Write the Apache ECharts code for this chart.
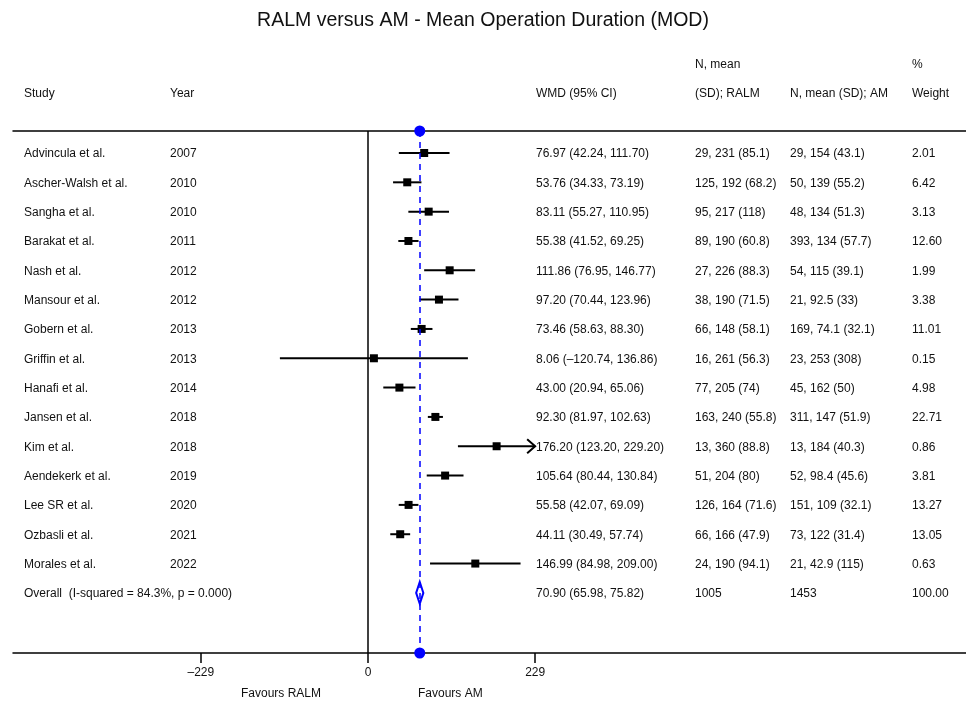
<!DOCTYPE html>
<html><head><meta charset="utf-8">
<script src="https://cdn.jsdelivr.net/npm/echarts@6/dist/echarts.min.js"></script>
<style>html,body{margin:0;padding:0;background:#fff}#c{width:966px;height:706px}</style>
</head><body><div id="c"></div>
<script>
const studies = ['Advincula et al.','Ascher-Walsh et al.','Sangha et al.','Barakat et al.','Nash et al.','Mansour et al.','Gobern et al.','Griffin et al.','Hanafi et al.','Jansen et al.','Kim et al.','Aendekerk et al.','Lee SR et al.','Ozbasli et al.','Morales et al.'];
const years = [2007,2010,2010,2011,2012,2012,2013,2013,2014,2018,2018,2019,2020,2021,2022];
const wmd = [76.97,53.76,83.11,55.38,111.86,97.20,73.46,8.06,43.00,92.30,176.20,105.64,55.58,44.11,146.99];
const ciLow = [42.24,34.33,55.27,41.52,76.95,70.44,58.63,-120.74,20.94,81.97,123.20,80.44,42.07,30.49,84.98];
const ciHigh = [111.70,73.19,110.95,69.25,146.77,123.96,88.30,136.86,65.06,102.63,229.20,130.84,69.09,57.74,209.00];
const ralmText = ['29, 231 (85.1)','125, 192 (68.2)','95, 217 (118)','89, 190 (60.8)','27, 226 (88.3)','38, 190 (71.5)','66, 148 (58.1)','16, 261 (56.3)','77, 205 (74)','163, 240 (55.8)','13, 360 (88.8)','51, 204 (80)','126, 164 (71.6)','66, 166 (47.9)','24, 190 (94.1)'];
const amText = ['29, 154 (43.1)','50, 139 (55.2)','48, 134 (51.3)','393, 134 (57.7)','54, 115 (39.1)','21, 92.5 (33)','169, 74.1 (32.1)','23, 253 (308)','45, 162 (50)','311, 147 (51.9)','13, 184 (40.3)','52, 98.4 (45.6)','151, 109 (32.1)','73, 122 (31.4)','21, 42.9 (115)'];
const weights = [2.01,6.42,3.13,12.60,1.99,3.38,11.01,0.15,4.98,22.71,0.86,3.81,13.27,13.05,0.63];
const overallLabel = 'Overall  (I-squared = 84.3%, p = 0.000)';
const overallEst = 70.90, overallLow = 65.98, overallHigh = 75.82;
const overallRalm = '1005', overallAm = '1453', overallWeight = 100.00;
const xTicks = [-229, 0, 229];
const xTickLabels = ['\u2013229', '0', '229'];
const headers = ['Study','Year','WMD (95% CI)','(SD); RALM','N, mean (SD); AM','Weight'];
const headers2 = ['','','','N, mean','','%'];

const FONT = '"Liberation Sans", Arial, sans-serif';
const colX = [24, 170, 536, 695, 790, 912];
const fmtCI = (e,l,h) => (e.toFixed(2)+' ('+l.toFixed(2)+', '+h.toFixed(2)+')').replace(/-/g,'\u2013');

const tableRows = studies.map((s,i)=>[s, String(years[i]), fmtCI(wmd[i],ciLow[i],ciHigh[i]), ralmText[i], amText[i], weights[i].toFixed(2)]);
tableRows.push([overallLabel, '', fmtCI(overallEst,overallLow,overallHigh), overallRalm, overallAm, overallWeight.toFixed(2)]);

const ciData = studies.map((s,i)=>[ciLow[i], ciHigh[i], wmd[i], i]);
const textData = tableRows.map((r,i)=>[0, i]);
const overallRow = studies.length;

const chart = echarts.init(document.getElementById('c'));
const plotLimit = xTicks[xTicks.length-1];

function renderCI(params, api){
  const lo=api.value(0), hi=api.value(1), est=api.value(2), row=api.value(3);
  const hiC=Math.min(hi,plotLimit), loC=Math.max(lo,-plotLimit);
  const p0=api.coord([loC,row]), p1=api.coord([hiC,row]), pc=api.coord([est,row]);
  const ch=[{type:'line',shape:{x1:p0[0],y1:p0[1],x2:p1[0],y2:p1[1]},style:{stroke:'#000',lineWidth:2}}];
  if(hi>plotLimit){
    ch.push({type:'polyline',shape:{points:[[p1[0]-8,p1[1]-7],[p1[0],p1[1]],[p1[0]-8,p1[1]+7]]},style:{stroke:'#000',lineWidth:2,fill:null}});
  }
  const s = 8;
  ch.push({type:'rect',shape:{x:pc[0]-s/2,y:pc[1]-s/2,width:s,height:s},style:{fill:'#000'}});
  return {type:'group',children:ch};
}
function renderDiamond(params, api){
  const lo=api.value(0), hi=api.value(1), est=api.value(2), row=api.value(3);
  const a=api.coord([lo,row]), b=api.coord([hi,row]), c=api.coord([est,row]);
  const h=11;
  return {type:'polygon',shape:{points:[[a[0],a[1]],[c[0],c[1]-h],[b[0],b[1]],[c[0],c[1]+h]]},style:{fill:'#fff',stroke:'#0000ff',lineWidth:2}};
}
function renderText(params, api){
  const i=params.dataIndex;
  const y=api.coord([0,api.value(1)])[1];
  return {type:'group',children:tableRows[i].map((t,k)=>({type:'text',x:colX[k],y:y+1,style:{text:t,fill:'#111',font:'12px '+FONT,textVerticalAlign:'middle',verticalAlign:'middle'}}))};
}

const graphics = [];
headers.forEach((t,k)=>graphics.push({type:'text',left:colX[k],top:88,style:{text:t,fill:'#111',font:'12px '+FONT}}));
headers2.forEach((t,k)=>{ if(t) graphics.push({type:'text',left:colX[k],top:59,style:{text:t,fill:'#111',font:'12px '+FONT}}); });
graphics.push({type:'text',left:241,top:688,style:{text:'Favours RALM',fill:'#111',font:'12px '+FONT}});
graphics.push({type:'text',left:418,top:688,style:{text:'Favours AM',fill:'#111',font:'12px '+FONT}});

const xCommon = {type:'value',min:-486.4,max:819.3,splitLine:{show:false}};
chart.setOption({
  animation:false,
  backgroundColor:'#fff',
  title:{text:'RALM versus AM - Mean Operation Duration (MOD)',left:'center',top:6,textStyle:{fontFamily:FONT,fontSize:19.5,fontWeight:'normal',color:'#111'}},
  grid:{left:13,right:0,top:131,bottom:53},
  xAxis:[
    Object.assign({},xCommon,{position:'bottom',axisLine:{show:true,onZero:false,lineStyle:{color:'#000',width:1.5}},
      axisTick:{show:true,customValues:xTicks,length:10,lineStyle:{color:'#000',width:1.5}},
      axisLabel:{show:true,customValues:xTicks,margin:14,fontFamily:FONT,fontSize:12,color:'#111',formatter:v=>xTickLabels[xTicks.indexOf(v)] ?? ''}}),
    Object.assign({},xCommon,{position:'top',axisLine:{show:true,onZero:false,lineStyle:{color:'#000',width:1.5}},axisTick:{show:false},axisLabel:{show:false}})
  ],
  yAxis:{type:'value',inverse:true,min:-0.75,max:17.05,show:false},
  graphic:graphics,
  series:[
    {type:'line',data:[],z:1,markLine:{silent:true,symbol:'none',label:{show:false},lineStyle:{color:'#000',width:1.5,type:'solid'},data:[{xAxis:0}]}},
    {type:'custom',renderItem:renderCI,data:ciData,z:2,clip:false,silent:true},
    {type:'custom',renderItem:renderDiamond,data:[[overallLow,overallHigh,overallEst,overallRow]],z:4,clip:false,silent:true},
    {type:'line',data:[],z:3,markLine:{silent:true,symbol:['circle','circle'],symbolSize:11,label:{show:false},itemStyle:{color:'#0000ff'},lineStyle:{color:'#0000ff',width:1.5,type:[6,5]},data:[{xAxis:overallEst}]}},
    {type:'custom',renderItem:renderText,data:textData,z:5,clip:false,silent:true}
  ]
});
</script></body></html>
